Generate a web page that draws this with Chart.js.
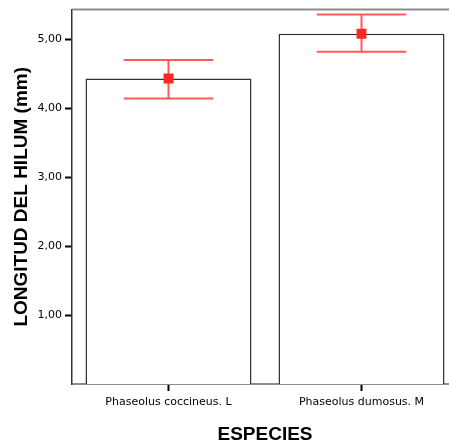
<!DOCTYPE html>
<html>
<head>
<meta charset="utf-8">
<script src="https://cdn.jsdelivr.net/npm/chart.js@4/dist/chart.umd.min.js"></script>
<style>
  html, body { margin: 0; padding: 0; background: #fff; overflow: hidden; }
  #wrap { width: 465px; height: 446px; }
</style>
</head>
<body>
<div id="wrap"><canvas id="grafico" width="465" height="446"></canvas></div>
<script>
const especies = ['Phaseolus coccineus. L', 'Phaseolus dumosus. M'];
const medias = [4.43, 5.08];
const limiteInferior = [4.14, 4.82];
const limiteSuperior = [4.70, 5.36];
const marcasY = [1, 2, 3, 4, 5];

const FONTE = "Arial, 'Liberation Sans', sans-serif";
const FONTE_TICKS = "'DejaVu Sans', sans-serif";

// barras de erro desenhadas logo depois das barras (antes dos marcadores)
const barrasErro = {
  id: 'barrasErro',
  afterDatasetDraw(chart, args) {
    if (args.index !== 0) return;
    const ctx = chart.ctx;
    const y = chart.scales.y;
    ctx.save();
    ctx.strokeStyle = '#ff5a5a';
    ctx.lineWidth = 2;
    args.meta.data.forEach((bar, i) => {
      const yTop = y.getPixelForValue(limiteSuperior[i]);
      const yBot = y.getPixelForValue(limiteInferior[i]);
      const meia = bar.width * 0.27;
      ctx.beginPath();
      ctx.moveTo(bar.x, yTop); ctx.lineTo(bar.x, yBot);
      ctx.moveTo(bar.x - meia, yTop); ctx.lineTo(bar.x + meia, yTop);
      ctx.moveTo(bar.x - meia, yBot); ctx.lineTo(bar.x + meia, yBot);
      ctx.stroke();
    });
    ctx.restore();
  }
};

// linha superior do quadro
const quadro = {
  id: 'quadro',
  afterDraw(chart) {
    const a = chart.chartArea;
    const ctx = chart.ctx;
    ctx.save();
    ctx.strokeStyle = '#8c8c8c';
    ctx.lineWidth = 2;
    ctx.beginPath();
    ctx.moveTo(a.left, a.top);
    ctx.lineTo(a.right, a.top);
    ctx.stroke();
    ctx.restore();
  }
};

new Chart(document.getElementById('grafico'), {
  type: 'bar',
  data: {
    labels: especies,
    datasets: [
      {
        data: medias,
        backgroundColor: '#ffffff',
        borderColor: '#333333',
        borderWidth: 1.5,
        categoryPercentage: 1,
        barPercentage: 0.86,
        order: 2
      },
      {
        type: 'line',
        data: medias,
        showLine: false,
        pointStyle: 'rect',
        pointRadius: 7,
        pointBackgroundColor: '#ff2626',
        pointBorderWidth: 0,
        order: 1
      }
    ]
  },
  plugins: [barrasErro, quadro],
  options: {
    responsive: false,
    animation: false,
    layout: { padding: { top: 8, right: 3, left: 0, bottom: 0 } },
    plugins: { legend: { display: false }, tooltip: { enabled: false } },
    scales: {
      x: {
        border: { color: '#8c8c8c', width: 2 },
        grid: { offset: false, drawOnChartArea: false, tickLength: 7, tickWidth: 2, tickColor: '#000' },
        ticks: { color: '#000', padding: 5, maxRotation: 0, font: { family: FONTE_TICKS, size: 11 } },
        title: { display: true, text: 'ESPECIES', color: '#000', padding: 0, font: { family: FONTE, size: 19, weight: 'bold' } },
        afterFit: s => { s.height = 62; }
      },
      y: {
        min: 0,
        max: 5.43,
        border: { color: '#333333', width: 1.5 },
        grid: { drawOnChartArea: false, tickLength: 7, tickWidth: 2, tickColor: '#000' },
        ticks: {
          stepSize: 1,
          includeBounds: false,
          padding: 3,
          color: '#000',
          font: { family: FONTE_TICKS, size: 11 },
          callback: v => v.toFixed(2).replace('.', ',')
        },
        afterBuildTicks: s => { s.ticks = marcasY.map(v => ({ value: v })); },
        title: { display: true, text: 'LONGITUD DEL HILUM (mm)', color: '#000', padding: { top: 10, bottom: 0 }, font: { family: FONTE, size: 19, weight: 'bold' } },
        afterFit: s => { s.width = 72; }
      }
    }
  }
});
</script>
</body>
</html>
